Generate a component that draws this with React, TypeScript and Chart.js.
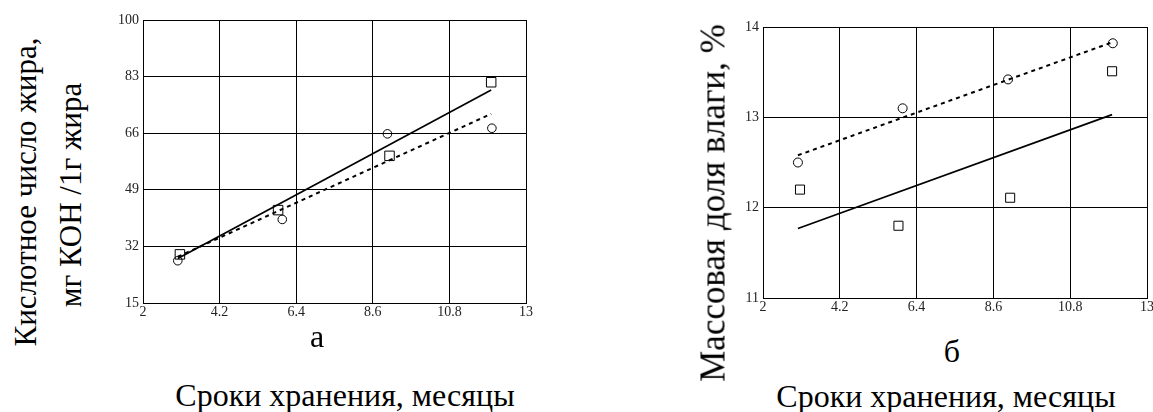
import React, { useEffect, useRef } from "react";
import { Chart, registerables } from "chart.js";

Chart.register(...registerables);

// ---- data ----
const xTickValues = [2, 4.2, 6.4, 8.6, 10.8, 13];
const xTickLabels = ["2", "4.2", "6.4", "8.6", "10.8", "13"];
const yTickValuesA = [15, 32, 49, 66, 83, 100];
const yTickLabelsA = ["15", "32", "49", "66", "83", "100"];
const yTickValuesB = [11, 12, 13, 14];
const yTickLabelsB = ["11", "12", "13", "14"];

const circleMonths = [3, 6, 9.02, 12.02];
const squareMonths = [3.06, 5.88, 9.08, 12];
const trendMonths = [3, 12];

const acidCircles = [27.7, 40.1, 65.8, 67.5];
const acidSquares = [29.6, 42.9, 59.2, 81.3];
const acidSolidTrend = [28.4, 79.0];
const acidDashedTrend = [28.9, 71.8];

const moistCircles = [12.5, 13.1, 13.42, 13.82];
const moistSquares = [12.2, 11.8, 12.11, 13.51];
const moistSolidTrend = [11.77, 13.03];
const moistDashedTrend = [12.58, 13.83];

const SERIF = '"Liberation Serif", "Times New Roman", serif';

type PlotProps = {
  left: number;
  top: number;
  width: number;
  height: number;
  yWidth: number;
  xHeight: number;
  padTop: number;
  padRight: number;
  yMin: number;
  yMax: number;
  yTicks: number[];
  yLabels: string[];
  circles: number[];
  squares: number[];
  solid: number[];
  dashed: number[];
  circleR: number;
  squareR: number;
};

function Plot(p: PlotProps) {
  const ref = useRef<HTMLCanvasElement | null>(null);
  useEffect(() => {
    if (!ref.current) return;
    const pts = (xs: number[], ys: number[]) => xs.map((x, i) => ({ x, y: ys[i] }));
    const chart = new Chart(ref.current, {
      type: "scatter",
      data: {
        datasets: [
          {
            data: pts(trendMonths, p.solid),
            showLine: true,
            borderColor: "#000",
            borderWidth: 1.7,
            pointRadius: 0,
            fill: false,
          },
          {
            data: pts(trendMonths, p.dashed),
            showLine: true,
            borderColor: "#000",
            borderWidth: 2,
            borderDash: [4, 4],
            pointRadius: 0,
            fill: false,
          },
          {
            data: pts(circleMonths, p.circles),
            pointStyle: "circle",
            pointRadius: p.circleR,
            borderColor: "#000",
            borderWidth: 1,
            backgroundColor: "rgba(0,0,0,0)",
          },
          {
            data: pts(squareMonths, p.squares),
            pointStyle: "rect",
            pointRadius: p.squareR,
            borderColor: "#000",
            borderWidth: 1,
            backgroundColor: "rgba(0,0,0,0)",
          },
        ],
      } as any,
      options: {
        animation: false,
        responsive: false,
        maintainAspectRatio: false,
        events: [],
        layout: { padding: { left: 0, top: p.padTop, right: p.padRight, bottom: 0 } },
        plugins: { legend: { display: false }, tooltip: { enabled: false } },
        scales: {
          x: {
            type: "linear",
            min: 2,
            max: 13,
            afterBuildTicks: (axis: any) => {
              axis.ticks = xTickValues.map((v) => ({ value: v }));
            },
            afterFit: (axis: any) => {
              axis.height = p.xHeight;
            },
            grid: { color: "#000", lineWidth: 1, drawTicks: false },
            border: { color: "#000", width: 1 },
            ticks: {
              autoSkip: false,
              maxRotation: 0,
              padding: 1,
              color: "#222",
              font: { family: SERIF, size: 14 },
              callback: (_v: any, i: number) => xTickLabels[i],
            },
          },
          y: {
            type: "linear",
            min: p.yMin,
            max: p.yMax,
            afterBuildTicks: (axis: any) => {
              axis.ticks = p.yTicks.map((v) => ({ value: v }));
            },
            afterFit: (axis: any) => {
              axis.width = p.yWidth;
            },
            grid: { color: "#000", lineWidth: 1, drawTicks: false },
            border: { color: "#000", width: 1 },
            ticks: {
              autoSkip: false,
              padding: 4,
              color: "#222",
              font: { family: SERIF, size: 14 },
              callback: (_v: any, i: number) => p.yLabels[i],
            },
          },
        },
      } as any,
    });
    return () => chart.destroy();
  }, []);
  return (
    <canvas
      ref={ref}
      width={p.width}
      height={p.height}
      style={{ position: "absolute", left: p.left, top: p.top, width: p.width, height: p.height }}
    />
  );
}

function VText(props: { text: string; cx: number; cy: number; size: number }) {
  return (
    <div
      style={{
        position: "absolute",
        left: props.cx,
        top: props.cy,
        transform: "translate(-50%, -50%) rotate(-90deg)",
        fontFamily: SERIF,
        fontSize: props.size,
        lineHeight: props.size + "px",
        whiteSpace: "nowrap",
        color: "#000",
      }}
    >
      {props.text}
    </div>
  );
}

function HText(props: { text: string; cx: number; top: number; size: number }) {
  return (
    <div
      style={{
        position: "absolute",
        left: props.cx,
        top: props.top,
        transform: "translateX(-50%)",
        fontFamily: SERIF,
        fontSize: props.size,
        lineHeight: props.size + "px",
        whiteSpace: "nowrap",
        color: "#000",
      }}
    >
      {props.text}
    </div>
  );
}

export default function App() {
  return (
    <div
      style={{
        position: "fixed",
        left: 0,
        top: 0,
        width: 1153,
        height: 412,
        overflow: "hidden",
        background: "#fff",
      }}
    >
      <Plot
        left={100}
        top={0}
        width={440}
        height={330}
        yWidth={43}
        xHeight={27}
        padTop={20}
        padRight={14}
        yMin={15}
        yMax={100}
        yTicks={yTickValuesA}
        yLabels={yTickLabelsA}
        circles={acidCircles}
        squares={acidSquares}
        solid={acidSolidTrend}
        dashed={acidDashedTrend}
        circleR={4.3}
        squareR={6.7}
      />
      <Plot
        left={690}
        top={0}
        width={480}
        height={330}
        yWidth={73}
        xHeight={32}
        padTop={27}
        padRight={23}
        yMin={11}
        yMax={14}
        yTicks={yTickValuesB}
        yLabels={yTickLabelsB}
        circles={moistCircles}
        squares={moistSquares}
        solid={moistSolidTrend}
        dashed={moistDashedTrend}
        circleR={4.5}
        squareR={6.4}
      />
      <VText text="Кислотное число жира," cx={24.5} cy={192} size={31} />
      <VText text="мг КОН /1г жира" cx={69.5} cy={195} size={31} />
      <VText text="Массовая доля влаги, %" cx={713} cy={203} size={35} />
      <HText text="а" cx={317} top={320} size={32} />
      <HText text="б" cx={952} top={335} size={32} />
      <HText text="Сроки хранения, месяцы" cx={345} top={379} size={32} />
      <HText text="Сроки хранения, месяцы" cx={946} top={380} size={32} />
    </div>
  );
}
